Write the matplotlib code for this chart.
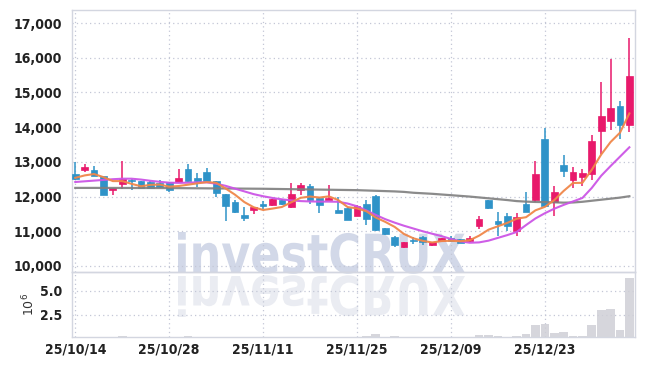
import numpy as np
import matplotlib
matplotlib.use('Agg')
import matplotlib.pyplot as plt
from matplotlib.textpath import TextPath
from matplotlib.font_manager import FontProperties, fontManager
from matplotlib.patches import PathPatch
from matplotlib.transforms import Affine2D

# ---------------- data ----------------
opens = [12650, 12760, 12760, 12590, 12200, 12360, 12490, 12450, 12430, 12390,
         12410, 12420, 12790, 12530, 12710, 12450, 12080, 11840, 11470, 11620,
         11780, 11750, 11910, 11700, 12180, 12300, 11960, 11910, 11620, 11680,
         11450, 11790, 12010, 11100, 10840, 10540, 10760, 10840, 10600, 10720,
         10810, 10770, 10720, 11140, 11890, 11290, 11450, 11010, 11800, 11890,
         13670, 11840, 12920, 12490, 12550, 12660, 13900, 14190, 14620, 14060]
highs = [13000, 12930, 12880, 12600, 12250, 13020, 12500, 12460, 12440, 12470,
         12420, 12800, 12930, 12680, 12830, 12460, 12080, 11900, 11700, 11700,
         11880, 11920, 11920, 12380, 12390, 12370, 12000, 12330, 11990, 11710,
         11770, 11890, 12050, 11100, 10870, 10700, 10830, 10850, 10700, 10820,
         10870, 10780, 10870, 11450, 11900, 11550, 11530, 11530, 12130, 13020,
         13970, 12300, 13190, 12860, 12790, 13780, 15310, 15960, 14750, 16560]
lows = [12480, 12700, 12580, 12050, 12040, 12230, 12200, 12240, 12240, 12260,
        12140, 12400, 12420, 12280, 12440, 12000, 11310, 11540, 11310, 11500,
        11640, 11740, 11770, 11680, 12050, 11780, 11530, 11900, 11520, 11320,
        11440, 11170, 11000, 10900, 10560, 10530, 10620, 10610, 10590, 10700,
        10700, 10660, 10700, 11060, 11640, 10860, 11020, 10870, 11550, 11850,
        11700, 11450, 12560, 12250, 12300, 12470, 13240, 13910, 13660, 13870]
closes = [12500, 12850, 12590, 12050, 12240, 12500, 12450, 12250, 12250, 12280,
          12200, 12540, 12440, 12450, 12450, 12110, 11720, 11550, 11380, 11700,
          11720, 11920, 11780, 12060, 12340, 11910, 11770, 11950, 11530, 11330,
          11720, 11350, 11050, 10910, 10610, 10690, 10730, 10680, 10680, 10810,
          10730, 10670, 10820, 11340, 11670, 11220, 11160, 11420, 11560, 12660,
          11720, 12130, 12740, 12710, 12680, 13600, 14330, 14540, 14050, 15460]
ma_short = [12540, 12610, 12650, 12560, 12446, 12446, 12366, 12298, 12338, 12346,
            12286, 12304, 12342, 12382, 12416, 12398, 12234, 12056, 11842, 11692,
            11614, 11654, 11700, 11836, 11964, 12002, 11972, 12006, 11900, 11698,
            11660, 11576, 11396, 11272, 11128, 10922, 10798, 10724, 10678, 10718,
            10726, 10714, 10742, 10874, 11046, 11144, 11242, 11362, 11406, 11604,
            11704, 11898, 12162, 12392, 12396, 12772, 13212, 13572, 13840, 14396]
ma_mid = [12420, 12440, 12460, 12480, 12500, 12515, 12515, 12490, 12455, 12425,
          12400, 12395, 12400, 12410, 12410, 12370, 12310, 12230, 12150, 12070,
          12010, 11960, 11920, 11890, 11870, 11860, 11855, 11855, 11850, 11800,
          11720, 11600, 11470, 11350, 11250, 11160, 11080, 11000, 10930, 10860,
          10780, 10710, 10670, 10680, 10730, 10810, 10890, 10980, 11180, 11370,
          11520, 11650, 11760, 11860, 11960, 12250, 12600, 12880, 13150, 13420]
ma_long = [12250, 12250, 12250, 12249, 12249, 12248, 12248, 12247, 12247, 12246,
           12245, 12243, 12241, 12239, 12237, 12235, 12233, 12231, 12229, 12227,
           12225, 12221, 12217, 12213, 12209, 12205, 12201, 12197, 12193, 12189,
           12185, 12176, 12167, 12158, 12149, 12135, 12110, 12095, 12080, 12060,
           12040, 12020, 12000, 11975, 11950, 11925, 11900, 11870, 11855, 11845,
           11840, 11835, 11825, 11830, 11850, 11880, 11910, 11940, 11970, 12010]
volume = [0.1, 0.1, 0.1, 0.1, 0.1, 0.3, 0.1, 0.1, 0.1, 0.1,
          0.1, 0.28, 0.3, 0.28, 0.1, 0.25, 0.28, 0.1, 0.1, 0.1,
          0.1, 0.1, 0.1, 0.28, 0.1, 0.1, 0.1, 0.1, 0.1, 0.1,
          0.1, 0.34, 0.55, 0.1, 0.3, 0.1, 0.1, 0.1, 0.1, 0.1,
          0.1, 0.1, 0.1, 0.42, 0.42, 0.34, 0.1, 0.3, 0.55, 1.47,
          1.57, 0.68, 0.75, 0.34, 0.3, 1.47, 3.01, 3.12, 0.96, 6.28]
tick_idx = [0, 10, 20, 30, 40, 50]
tick_labels = ['25/10/14', '25/10/28', '25/11/11', '25/11/25', '25/12/09', '25/12/23']
price_ticks = [10000, 11000, 12000, 13000, 14000, 15000, 16000, 17000]
vol_ticks = [2.5, 5.0]

# ---------------- style ----------------
UP = '#e8196b'
DOWN = '#2f93c8'
TXT = '#222222'
GRID = '#c3c7d6'
SPINE = '#d3d6e0'

tick_prop = dict(family='DejaVu Sans', stretch='condensed', weight='bold', size=10)

W, H = 645, 366
fig = plt.figure(figsize=(W / 100, H / 100), dpi=100)
fig.patch.set_facecolor('white')
L = 71.7 / W
R = 635 / W
ax = fig.add_axes([L, 1 - 272 / H, R - L, (272 - 9.5) / H])
axv = fig.add_axes([L, 1 - 337.3 / H, R - L, (337.3 - 272) / H], sharex=ax)
for a in (ax, axv):
    a.set_facecolor('none')
    for s in a.spines.values():
        s.set_color(SPINE)
        s.set_linewidth(1.0)
    a.grid(True, linestyle=(0, (1, 2.5)), color=GRID, linewidth=0.9)
    a.set_axisbelow(True)

# watermark
fp = FontProperties(family='DejaVu Sans', weight='bold')
tp = TextPath((0, 0), 'investCRUX', size=100, prop=fp)
ext = tp.get_extents()
x0, x1 = 178 / W, 465 / W
ybase, ytop = 1 - 273 / H, 1 - 232 / H
sx = (x1 - x0) / (ext.x1 - ext.x0)
sy = (ytop - ybase) / ext.y1
tr_main = Affine2D().translate(-ext.x0, 0).scale(sx, sy).translate(x0, ybase)
tr_ref = Affine2D().translate(-ext.x0, 0).scale(sx, -sy).translate(x0, 1 - 276 / H)
fig.add_artist(PathPatch(tr_main.transform_path(tp), transform=fig.transFigure,
                         fc='#d2d8e8', ec='none', zorder=-1))
fig.add_artist(PathPatch(tr_ref.transform_path(tp), transform=fig.transFigure,
                         fc='#eaecf2', ec='none', zorder=-1))

x = np.arange(len(closes))
o = np.array(opens); c = np.array(closes)
hi = np.array(highs); lo = np.array(lows)
up = c >= o
cols = np.where(up, UP, DOWN)
ax.vlines(x, lo, hi, colors=cols, linewidth=1.1, zorder=2)
ax.bar(x, np.abs(c - o), bottom=np.minimum(o, c), width=0.72, color=cols,
       edgecolor=cols, linewidth=0.5, zorder=3)

ax.plot(x, ma_long, color='#7f7f7f', lw=1.6, alpha=0.9, zorder=4)
ax.plot(x, ma_mid, color='#cc55e6', lw=1.5, alpha=0.95, zorder=4)
ax.plot(x, ma_short, color='#f0874a', lw=1.5, alpha=0.95, zorder=4)

ax.set_ylim(9827, 17390)
ax.set_xlim(-0.38, 59.6)
ax.set_yticks(price_ticks)
ax.set_yticklabels([f'{v:,}' for v in price_ticks])
ax.tick_params(axis='both', length=0, pad=7, labelcolor=TXT)
ax.tick_params(axis='x', labelbottom=False)

axv.bar(x, volume, width=0.92, color='#cfcfd6', alpha=0.85, zorder=2)
axv.set_ylim(0.2, 6.92)
axv.set_yticks(vol_ticks)
axv.set_yticklabels(['2.5', '5.0'])
axv.set_xticks(tick_idx)
axv.set_xticklabels(tick_labels)
axv.tick_params(axis='y', length=0, pad=7, labelcolor=TXT)
axv.tick_params(axis='x', length=0, pad=4, labelcolor=TXT)
axv.set_ylabel(r'$10^6$', fontsize=9, color='#333333', labelpad=2)

for lab in ax.get_yticklabels() + axv.get_yticklabels() + axv.get_xticklabels():
    lab.set_fontproperties(FontProperties(**tick_prop))

fig.savefig('out.png', dpi=100, facecolor='white')
